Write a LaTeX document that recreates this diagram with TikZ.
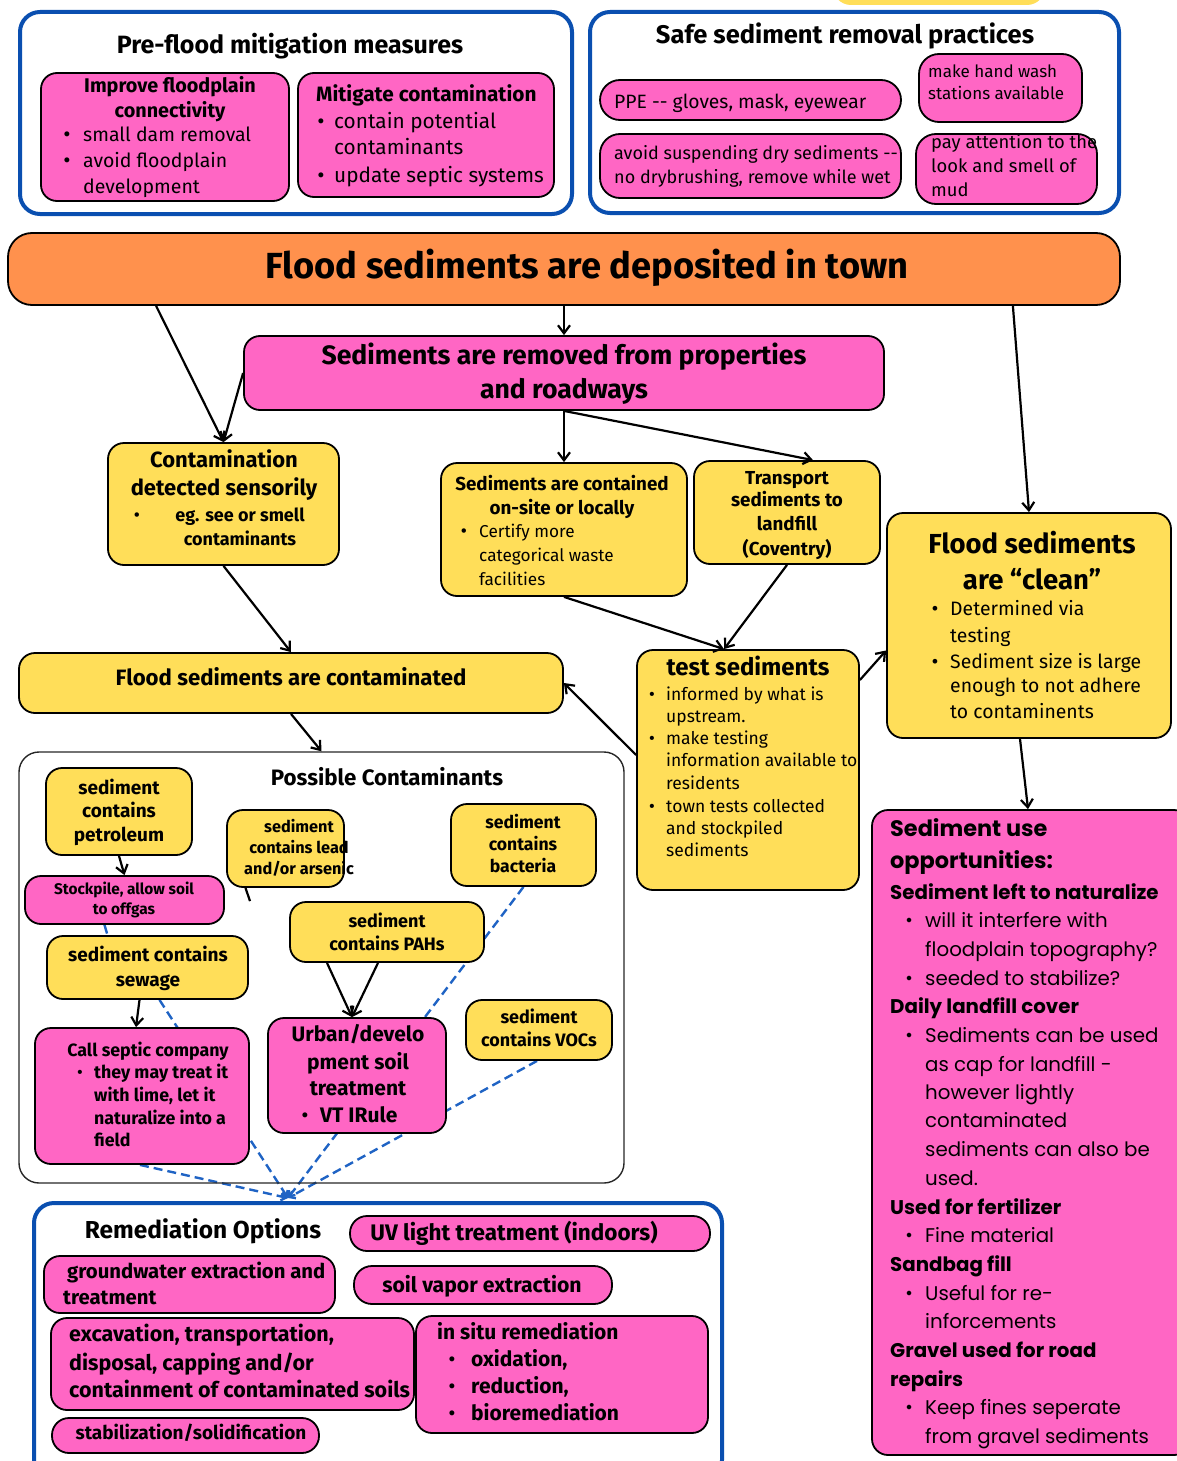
\documentclass[tikz,border=0pt]{standalone}
\usepackage{fontspec}
\setmainfont{Fira Sans}
\newfontfamily\popfont{Poppins}
\usetikzlibrary{arrows.meta,calc}
\definecolor{pinkc}{HTML}{FF66C4}
\definecolor{yelc}{HTML}{FFDE59}
\definecolor{orc}{HTML}{FF914D}
\definecolor{bluec}{HTML}{0A4FB0}
\definecolor{dashc}{HTML}{1F63C4}
\pgfdeclarelayer{bg}
\pgfsetlayers{bg,main}
\newcommand{\fs}[1]{\fontsize{#1}{#1}\selectfont}
\newcommand{\bx}[6]{\node[#1, minimum width={#5-#3}, minimum height={#6-#4}] (#2) at ({(#3+#5)/2},{(#4+#6)/2}) {};}
\newcommand{\Lt}[6]{\node[txt,anchor=base west,font=\fs{#4}#5] (#1) at (#2,{#3+0.31*#4}) {#6};}
\newcommand{\Ct}[6]{\node[txt,anchor=base,font=\fs{#4}#5] (#1) at (#2,{#3+0.31*#4}) {#6};}
\newcommand{\Bu}[5]{\node[txt,anchor=base,font=\fs{#4}#5\bfseries] (#1) at (#2,{#3+0.31*#4}) {\textbullet};}
\tikzset{
  txt/.style={inner sep=0pt},
  box/.style={draw=black, line width=1.8pt, rounded corners=16pt, inner sep=0pt},
  pinkb/.style={box, fill=pinkc},
  yelb/.style={box, fill=yelc},
  orb/.style={box, fill=orc, rounded corners=24pt},
  blueb/.style={draw=bluec, line width=4pt, rounded corners=20pt, inner sep=0pt},
  contb/.style={draw=black!85, line width=1.4pt, rounded corners=20pt, inner sep=0pt},
  arr/.style={-{Straight Barb[length=8pt,width=12pt]}, line width=2.2pt},
  plain/.style={line width=2.2pt},
  dsh/.style={draw=dashc, line width=2.4pt, dash pattern=on 9pt off 5pt, -{Straight Barb[length=5pt,width=8pt]}},
}
\begin{document}
\begin{tikzpicture}[x=1pt,y=-1pt]
\useasboundingbox (0,0) rectangle (1176,1461);
% top sliver
\node[fill=yelc, rounded corners=18pt, minimum width=212, minimum height=40, inner sep=0] (sliver) at (939,-15) {};
% ---------- Pre-flood
\bx{blueb}{pf}{20}{12}{572}{214}
\Ct{pft}{290}{46}{25}{\bfseries}{Pre-flood mitigation measures}
\bx{pinkb}{pf1}{41}{73}{289}{201}
\Ct{pf1a}{170}{86}{19.8}{\bfseries}{Improve floodplain}
\Ct{pf1b}{170}{111}{19.8}{\bfseries}{connectivity}
\Bu{pf1u1}{67}{135}{18}{}
\Lt{pf1c}{83}{135}{19.5}{}{small dam removal}
\Bu{pf1u2}{67}{161}{18}{}
\Lt{pf1d}{83}{161}{19.5}{}{avoid floodplain}
\Lt{pf1e}{83}{187}{19.5}{}{development}
\bx{pinkb}{pf2}{298}{73}{554}{197}
\Lt{pf2a}{316}{95}{20.8}{\bfseries}{Mitigate contamination}
\Bu{pf2u1}{321}{122}{18}{}
\Lt{pf2b}{334}{122}{20.8}{}{contain potential}
\Lt{pf2c}{334}{148}{20.8}{}{contaminants}
\Bu{pf2u2}{321}{176}{18}{}
\Lt{pf2d}{334}{176}{20.8}{}{update septic systems}
% ---------- Safe
\bx{blueb}{ss}{590}{12}{1119}{213}
\Ct{sst}{845}{36}{25.5}{\bfseries}{Safe sediment removal practices}
\bx{pinkb,rounded corners=20pt}{ss1}{600}{80}{901}{120}
\Lt{ss1a}{614}{103}{19.3}{}{PPE -{}- gloves, mask, eyewear}
\bx{pinkb,rounded corners=20pt}{ss2}{919}{54}{1082}{122}
\Lt{ss2a}{928}{72}{17}{}{make hand wash}
\Lt{ss2b}{928}{94}{17}{}{stations available}
\bx{pinkb,rounded corners=20pt}{ss3}{600}{134}{901}{198}
\Lt{ss3a}{614}{154}{18}{}{avoid suspending dry sediments -{}-}
\Lt{ss3b}{614}{178}{18}{}{no drybrushing, remove while wet}
\bx{pinkb,rounded corners=20pt}{ss4}{916}{134}{1097}{204}
\Lt{ss4a}{931}{143}{18.4}{}{pay attention to the}
\Lt{ss4b}{931}{167}{18.4}{}{look and smell of}
\Lt{ss4c}{931}{191}{18.4}{}{mud}
% ---------- main flow
\bx{orb}{orange}{8}{233}{1120}{305}
\Ct{ort}{587}{267}{36.3}{\bfseries}{Flood sediments are deposited in town}
\bx{pinkb}{rem}{244}{336}{884}{410}
\Ct{rema}{564}{356}{26.6}{\bfseries}{Sediments are removed from properties}
\Ct{remb}{564}{390}{26.6}{\bfseries}{and roadways}
\bx{yelb}{det}{108}{443}{339}{565}
\Ct{deta}{224}{461}{22}{\bfseries}{Contamination}
\Ct{detb}{224}{489}{22}{\bfseries}{detected sensorily}
\Bu{detu}{137}{516}{16}{}
\Ct{detc}{240}{516}{18}{\bfseries}{eg. see or smell}
\Ct{detd}{240}{540}{18}{\bfseries}{contaminants}
\bx{yelb}{con}{441}{463}{687}{596}
\Ct{cona}{562}{485}{18.8}{\bfseries}{Sediments are contained}
\Ct{conb}{562}{509}{18.8}{\bfseries}{on-site or locally}
\Bu{conu}{464}{532}{16}{}
\Lt{conc}{479}{532}{17.2}{}{Certify more}
\Lt{cond}{479}{556}{17.2}{}{categorical waste}
\Lt{cone}{479}{580}{17.2}{}{facilities}
\bx{yelb}{trans}{694}{461}{880}{564}
\Ct{tra}{787}{479}{18.8}{\bfseries}{Transport}
\Ct{trb}{787}{501}{18.8}{\bfseries}{sediments to}
\Ct{trc}{787}{525}{18.8}{\bfseries}{landfill}
\Ct{trd}{787}{550}{18.8}{\bfseries}{(Coventry)}
\bx{yelb}{clean}{887}{513}{1171}{738}
\Ct{cla}{1032}{545}{27.5}{\bfseries}{Flood sediments}
\Ct{clb}{1032}{581}{27.5}{\bfseries}{are “clean”}
\Bu{clu1}{935}{609}{17}{}
\Lt{clc}{950}{609}{19.4}{}{Determined via}
\Lt{cld}{950}{636}{19.4}{}{testing}
\Bu{clu2}{935}{662}{17}{}
\Lt{cle}{950}{662}{19.4}{}{Sediment size is large}
\Lt{clf}{950}{686}{19.4}{}{enough to not adhere}
\Lt{clg}{950}{712}{19.4}{}{to contaminents}
\bx{yelb}{contam}{19}{653}{563}{713}
\Ct{cta}{291}{679}{22.2}{\bfseries}{Flood sediments are contaminated}
\bx{yelb}{test}{637}{650}{859}{890}
\Ct{tea}{748}{668}{24}{\bfseries}{test sediments}
\Bu{teu1}{652}{695}{15}{}
\Lt{teb}{666}{695}{17.5}{}{informed by what is}
\Lt{tec}{666}{717}{17.5}{}{upstream.}
\Bu{teu2}{652}{739}{15}{}
\Lt{ted}{666}{739}{17.5}{}{make testing}
\Lt{tee}{666}{761}{17.5}{}{information available to}
\Lt{tef}{666}{784}{17.5}{}{residents}
\Bu{teu3}{652}{807}{15}{}
\Lt{teg}{666}{807}{17.5}{}{town tests collected}
\Lt{teh}{666}{829}{17.5}{}{and stockpiled}
\Lt{tei}{666}{851}{17.5}{}{sediments}
% ---------- Sediment use
\bx{pinkb}{use}{872}{810}{1190}{1455}
\Lt{usa}{890}{830}{22.4}{\popfont\bfseries}{Sediment use}
\Lt{usb}{890}{862}{22.4}{\popfont\bfseries}{opportunities:}
\Lt{usc}{890}{893}{19.8}{\popfont\bfseries}{Sediment left to naturalize}
\Bu{usu1}{909}{921}{15}{\popfont}
\Lt{usd}{925}{921}{19.8}{\popfont}{will it interfere with}
\Lt{usee}{925}{950}{19.8}{\popfont}{floodplain topography?}
\Bu{usu2}{909}{979}{15}{\popfont}
\Lt{usf}{925}{979}{19.8}{\popfont}{seeded to stabilize?}
\Lt{usg}{890}{1007}{19.8}{\popfont\bfseries}{Daily landfill cover}
\Bu{usu3}{909}{1036}{15}{\popfont}
\Lt{ush}{925}{1036}{19.8}{\popfont}{Sediments can be used}
\Lt{usi}{925}{1065}{19.8}{\popfont}{as cap for landfill -}
\Lt{usj}{925}{1093}{19.8}{\popfont}{however lightly}
\Lt{usk}{925}{1121}{19.8}{\popfont}{contaminated}
\Lt{usl}{925}{1150}{19.8}{\popfont}{sediments can also be}
\Lt{usm}{925}{1179}{19.8}{\popfont}{used.}
\Lt{usn}{890}{1208}{19.8}{\popfont\bfseries}{Used for fertilizer}
\Bu{usu4}{909}{1236}{15}{\popfont}
\Lt{uso}{925}{1236}{19.8}{\popfont}{Fine material}
\Lt{usp}{890}{1265}{19.8}{\popfont\bfseries}{Sandbag fill}
\Bu{usu5}{909}{1294}{15}{\popfont}
\Lt{usq}{925}{1294}{19.8}{\popfont}{Useful for re-}
\Lt{usr}{925}{1322}{19.8}{\popfont}{inforcements}
\Lt{uss}{890}{1351}{19.8}{\popfont\bfseries}{Gravel used for road}
\Lt{ust}{890}{1380}{19.8}{\popfont\bfseries}{repairs}
\Bu{usu6}{909}{1408}{15}{\popfont}
\Lt{usv}{925}{1408}{19.8}{\popfont}{Keep fines seperate}
\Lt{usw}{925}{1437}{19.8}{\popfont}{from gravel sediments}
% ---------- Possible contaminants
\bx{contb}{poss}{19}{752}{624}{1183}
\Ct{posst}{387}{779}{22.3}{\bfseries}{Possible Contaminants}
\bx{yelb}{petro}{46}{768}{192}{855}
\Ct{pea}{119}{789}{19}{\bfseries}{sediment}
\Ct{peb}{119}{812}{19}{\bfseries}{contains}
\Ct{pec}{119}{836}{19}{\bfseries}{petroleum}
\bx{pinkb}{stock}{25}{876}{224}{924}
\Ct{sta}{124}{890}{15.4}{\bfseries}{Stockpile, allow soil}
\Ct{stb}{124}{910}{15.4}{\bfseries}{to offgas}
\bx{yelb}{sew}{47}{936}{248}{999}
\Ct{swa}{148}{956}{19}{\bfseries}{sediment contains}
\Ct{swb}{148}{981}{19}{\bfseries}{sewage}
\bx{pinkb}{sep}{35}{1028}{249}{1164}
\Ct{spa}{148}{1051}{17.8}{\bfseries}{Call septic company}
\Bu{spu}{80}{1073}{15}{}
\Lt{spb}{94}{1073}{17.8}{\bfseries}{they may treat it}
\Lt{spc}{94}{1096}{17.8}{\bfseries}{with lime, let it}
\Lt{spd}{94}{1119}{17.8}{\bfseries}{naturalize into a}
\Lt{spe}{94}{1141}{17.8}{\bfseries}{field}
\bx{yelb}{lead}{227}{810}{344}{887}
\Ct{lda}{299}{827}{16.3}{\bfseries}{sediment}
\Ct{ldb}{299}{848}{16.3}{\bfseries}{contains lead}
\Ct{ldc}{299}{869}{16.3}{\bfseries}{and/or arsenic}
\bx{yelb}{bac}{451}{804}{596}{886}
\Ct{bca}{523}{823}{17.6}{\bfseries}{sediment}
\Ct{bcb}{523}{845}{17.6}{\bfseries}{contains}
\Ct{bcc}{523}{867}{17.6}{\bfseries}{bacteria}
\bx{yelb}{pah}{290}{902}{484}{962}
\Ct{paa}{387}{922}{18}{\bfseries}{sediment}
\Ct{pab}{387}{945}{18}{\bfseries}{contains PAHs}
\bx{pinkb}{urb}{268}{1018}{446}{1133}
\Ct{uba}{358}{1035}{21}{\bfseries}{Urban/develo}
\Ct{ubb}{358}{1063}{21}{\bfseries}{pment soil}
\Ct{ubc}{358}{1089}{21}{\bfseries}{treatment}
\Bu{ubu}{305}{1116}{18}{}
\Lt{ubd}{320}{1116}{21}{\bfseries}{VT IRule}
\bx{yelb}{voc}{466}{1000}{612}{1060}
\Ct{vca}{539}{1018}{18}{\bfseries}{sediment}
\Ct{vcb}{539}{1041}{18}{\bfseries}{contains VOCs}
% ---------- Remediation
\bx{blueb}{remed}{34}{1203}{722}{1480}
\Ct{rmt}{203}{1231}{24.5}{\bfseries}{Remediation Options}
\bx{pinkb,rounded corners=17pt}{uv}{350}{1216}{710}{1251}
\Ct{uva}{514}{1234}{22.5}{\bfseries}{UV light treatment (indoors)}
\bx{pinkb}{gw}{44}{1256}{335}{1313}
\Lt{gwa}{67}{1272}{20.3}{\bfseries}{groundwater extraction and}
\Lt{gwb}{63}{1298}{20.3}{\bfseries}{treatment}
\bx{pinkb,rounded corners=18pt}{sve}{354}{1266}{612}{1304}
\Ct{svea}{482}{1286}{21.2}{\bfseries}{soil vapor extraction}
\bx{pinkb}{insitu}{416}{1316}{708}{1433}
\bx{pinkb}{excb}{51}{1318}{414}{1410}
\Lt{exa}{69}{1335}{21.5}{\bfseries}{excavation, transportation,}
\Lt{exb}{69}{1364}{21.5}{\bfseries}{disposal, capping and/or}
\Lt{exd}{69}{1391}{21.5}{\bfseries}{containment of contaminated soils}
\Lt{isa}{437}{1333}{21}{\bfseries}{in situ remediation}
\Bu{isu1}{452}{1360}{18}{}
\Lt{isb}{471}{1360}{21}{\bfseries}{oxidation,}
\Bu{isu2}{452}{1387}{18}{}
\Lt{isc}{471}{1387}{21}{\bfseries}{reduction,}
\Bu{isu3}{452}{1414}{18}{}
\Lt{isd}{471}{1414}{21}{\bfseries}{bioremediation}
\bx{pinkb,rounded corners=17pt}{stab}{52}{1418}{319}{1453}
\Ct{sba}{191}{1434}{19}{\bfseries}{stabilization/solidification}
% ---------- connectors
\draw[arr] ([xshift=149pt]orange.south west) -- (det.north);
\draw[arr] (rem.west) -- (det.north);
\draw[arr] (orange.south) -- (rem.north);
\draw[arr] (rem.south) -- (con.north);
\draw[arr] (rem.south) -- ([xshift=26pt]trans.north);
\draw[arr] ([xshift=-108pt]orange.south east) -- (clean.north);
\draw[arr] (con.south) -- ([xshift=-24pt]test.north);
\draw[arr] (trans.south) -- ([xshift=-24pt]test.north);
\draw[arr] (det.south) -- (contam.north);
\draw[arr] ([yshift=15pt]test.west) -- (contam.east);
\draw[arr] ([yshift=90pt]test.east) -- ([yshift=-25pt]clean.west);
\draw[arr] ([xshift=-9pt]clean.south) -- ([xshift=-3pt]use.north);
\draw[arr] (contam.south) -- (poss.north);
\draw[arr] (petro.south) -- (stock.north);
\draw[plain] ([xshift=-40pt]lead.south) -- ([xshift=-137pt]pah.north);
\draw[arr] ([xshift=-60pt]pah.south) -- ([xshift=-5pt]urb.north);
\draw[arr] ([xshift=-9pt]pah.south) -- ([xshift=-5pt]urb.north);
\draw[arr] ([xshift=-8pt]sew.south) -- ([xshift=-6pt]sep.north);
\coordinate (conv) at ([xshift=256pt,yshift=3pt]remed.north west);
\begin{pgfonlayer}{bg}
\draw[dsh] (bac.south) -- (conv);
\draw[dsh] ([xshift=-2pt]voc.south) -- (conv);
\draw[dsh] ([xshift=12pt]sew.south) -- (conv);
\draw[dsh] ([xshift=-2pt]sep.south) -- (conv);
\draw[dsh, -] ([xshift=-20pt]stock.south) -- ([xshift=-40pt]sew.north);
\end{pgfonlayer}
\end{tikzpicture}
\end{document}
